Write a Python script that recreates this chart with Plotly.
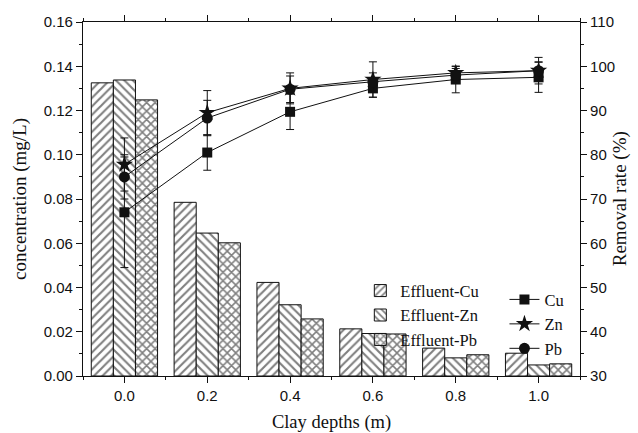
import plotly.graph_objects as go

depths = [0.0, 0.2, 0.4, 0.6, 0.8, 1.0]

# Effluent concentrations (mg/L)
eff_cu = [0.1325, 0.0785, 0.0423, 0.0213, 0.0126, 0.0103]
eff_zn = [0.1338, 0.0646, 0.0322, 0.0192, 0.0082, 0.0050]
eff_pb = [0.1248, 0.0602, 0.0258, 0.0190, 0.0096, 0.0055]

# Removal rates (%)
rem_cu = [67.0, 80.5, 89.7, 95.0, 97.0, 97.5]
rem_zn = [77.8, 89.5, 95.0, 97.0, 98.5, 99.0]
rem_pb = [75.0, 88.3, 94.8, 96.5, 98.0, 99.0]

err_cu = [12.5, 4.0, 4.0, 2.0, 3.0, 3.4]
err_zn = [6.0, 5.0, 3.5, 4.0, 1.5, 3.0]
err_pb = [5.0, 4.0, 3.0, 2.0, 1.5, 2.0]

SERIF = "Liberation Serif"
SANS = "Liberation Sans"
INK = "#111111"

fig = go.Figure()

bar_specs = [("Effluent-Cu", eff_cu, "/", 0.35), ("Effluent-Zn", eff_zn, "\\", 0.35), ("Effluent-Pb", eff_pb, "x", 0.45)]
for name, vals, shape, sol in bar_specs:
    fig.add_trace(go.Bar(
        x=depths, y=vals, name=name, legend="legend",
        marker=dict(color="white", line=dict(color=INK, width=1),
                    pattern=dict(shape=shape, fgcolor="#000000", bgcolor="white", size=6, solidity=sol)),
    ))

line_specs = [("Cu", rem_cu, err_cu, "square", 10), ("Zn", rem_zn, err_zn, "star", 13), ("Pb", rem_pb, err_pb, "circle", 11)]
for name, vals, err, sym, sz in line_specs:
    fig.add_trace(go.Scatter(
        x=depths, y=vals, name=name, yaxis="y2", legend="legend2",
        mode="lines+markers",
        line=dict(color=INK, width=1),
        marker=dict(symbol=sym, size=sz, color=INK),
        error_y=dict(type="data", array=err, visible=True, color=INK, thickness=1, width=4),
    ))

fig.update_layout(
    width=638, height=433,
    margin=dict(l=83, r=58, t=22, b=56.5),
    paper_bgcolor="white", plot_bgcolor="white",
    barmode="group", bargap=0.2, bargroupgap=0,
    font=dict(family=SANS, size=15, color=INK),
    xaxis=dict(range=[-0.1, 1.1], tickvals=depths, ticktext=["0.0", "0.2", "0.4", "0.6", "0.8", "1.0"],
               ticks="outside", ticklen=6, tickwidth=1, tickcolor=INK, automargin=False,
               minor=dict(dtick=0.1, tick0=0, ticks="outside", ticklen=3, tickcolor=INK),
               showline=True, linecolor=INK, linewidth=1.2, mirror="ticks", showgrid=False, zeroline=False,
               title=dict(text="Clay depths (m)", font=dict(family=SERIF, size=18.5), standoff=12),
               tickfont=dict(size=15)),
    yaxis=dict(range=[0, 0.16], dtick=0.02, tickformat=".2f", automargin=False,
               ticks="outside", ticklen=6, tickwidth=1, tickcolor=INK,
               minor=dict(dtick=0.01, ticks="outside", ticklen=3, tickcolor=INK),
               showline=True, linecolor=INK, linewidth=1.2, showgrid=False, zeroline=False,
               title=dict(text="concentration (mg/L)", font=dict(family=SERIF, size=19), standoff=12),
               tickfont=dict(size=15)),
    yaxis2=dict(range=[30, 110], dtick=10, overlaying="y", side="right", automargin=False,
                ticks="outside", ticklen=6, tickwidth=1, tickcolor=INK,
                minor=dict(dtick=5, ticks="outside", ticklen=3, tickcolor=INK),
                showline=True, linecolor=INK, linewidth=1.2, showgrid=False, zeroline=False,
                tickfont=dict(size=15)),
    legend=dict(x=0.558, y=0.29, xanchor="left", yanchor="top", bgcolor="rgba(0,0,0,0)",
                font=dict(family=SERIF, size=16.5), tracegroupgap=0, itemwidth=30),
    legend2=dict(x=0.848, y=0.265, xanchor="left", yanchor="top", bgcolor="rgba(0,0,0,0)",
                 font=dict(family=SERIF, size=16.5), tracegroupgap=0),
    annotations=[dict(text="Removal rate (%)", xref="paper", yref="paper", x=1.081, y=0.5,
                      xanchor="center", yanchor="middle", textangle=-90, showarrow=False,
                      font=dict(family=SERIF, size=19, color=INK))],
)

fig.write_html("out.html")
